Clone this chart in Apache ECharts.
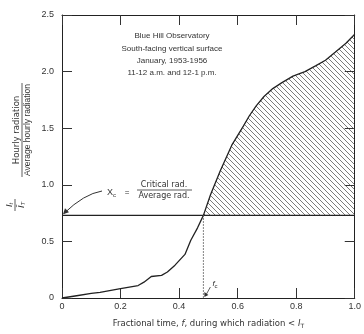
<!DOCTYPE html>
<html>
<head>
<meta charset="utf-8">
<script src="https://cdn.jsdelivr.net/npm/echarts@6/dist/echarts.min.js"></script>
<style>
  html, body { margin: 0; padding: 0; background: #fff; }
  #chart { width: 364px; height: 334px; }
</style>
</head>
<body>
<div id="chart"></div>
<script>
// fractional time f and hourly radiation ratio
const fracTime = [0, 0.05, 0.1, 0.13, 0.195, 0.26, 0.28, 0.305, 0.34, 0.36, 0.386, 0.42, 0.44, 0.463, 0.483,
  0.507, 0.54, 0.58, 0.62, 0.64, 0.664, 0.69, 0.72, 0.75, 0.789, 0.83, 0.866, 0.9, 0.933, 0.97, 1.0];
const radRatio = [0, 0.02, 0.04, 0.05, 0.08, 0.11, 0.14, 0.19, 0.2, 0.23, 0.29, 0.385, 0.51, 0.62, 0.73,
  0.91, 1.12, 1.35, 1.52, 1.61, 1.70, 1.78, 1.85, 1.90, 1.96, 2.0, 2.05, 2.1, 2.17, 2.25, 2.33];
const xcValue = 0.73;   // critical / average radiation
const fcValue = 0.483;  // fraction of time below critical
const noteLines = ['Blue Hill Observatory', 'South-facing vertical surface', 'January, 1953-1956', '11-12 a.m. and 12-1 p.m.'];

const chart = echarts.init(document.getElementById('chart'));

// diagonal hatching for the area above the critical level
function hatch() {
  const s = 5;
  const c = document.createElement('canvas');
  c.width = s; c.height = s;
  const ctx = c.getContext('2d');
  ctx.strokeStyle = '#444';
  ctx.lineWidth = 0.7;
  ctx.beginPath();
  ctx.moveTo(0, 0); ctx.lineTo(s, s);
  ctx.moveTo(s - 1, -1); ctx.lineTo(s + 1, 1);
  ctx.moveTo(-1, s - 1); ctx.lineTo(1, s + 1);
  ctx.stroke();
  return c;
}

const curve = fracTime.map((f, i) => [f, radRatio[i]]);
const upper = curve.filter(p => p[0] >= fcValue);
const font = 'Liberation Sans, Arial, sans-serif';
const wide = 'DejaVu Sans, sans-serif';
const fmt = v => (v === 0 ? '0' : v.toFixed(1));

const axisBase = {
  axisLine: { show: true, onZero: false, lineStyle: { color: '#222', width: 1 } },
  axisTick: { show: true, inside: true, length: 10, lineStyle: { color: '#333' } },
  splitLine: { show: false }
};

const option = {
  backgroundColor: '#fff',
  animation: false,
  grid: { left: 62, right: 4, top: 15, bottom: 33 },
  xAxis: [
    Object.assign({
      type: 'value', min: 0, max: 1, interval: 0.2, position: 'bottom',
      axisLabel: { color: '#333', fontSize: 9, fontFamily: font, margin: 4, formatter: fmt },
      name: '{n|Fractional time, }{i|f}{n|, during which radiation < }{i|I}{s|T}',
      nameLocation: 'middle', nameGap: 21,
      nameTextStyle: {
        rich: {
          n: { fontSize: 8.5, color: '#333', fontFamily: wide },
          i: { fontSize: 8.5, color: '#333', fontFamily: wide, fontStyle: 'italic' },
          s: { fontSize: 6, color: '#333', fontFamily: wide, verticalAlign: 'bottom', padding: [4, 0, 0, 0] }
        }
      }
    }, axisBase),
    Object.assign({
      type: 'value', min: 0, max: 1, interval: 0.2, position: 'top',
      axisLabel: { show: false }
    }, axisBase)
  ],
  yAxis: [
    Object.assign({
      type: 'value', min: 0, max: 2.5, interval: 0.5, position: 'left',
      axisLabel: { color: '#333', fontSize: 9, fontFamily: font, margin: 8, formatter: fmt }
    }, axisBase),
    Object.assign({
      type: 'value', min: 0, max: 2.5, interval: 0.5, position: 'right',
      axisLabel: { show: false }
    }, axisBase)
  ],
  series: [
    {
      type: 'line', data: upper, symbol: 'none', silent: true,
      lineStyle: { width: 0 },
      areaStyle: { origin: xcValue, color: { image: hatch(), repeat: 'repeat' }, opacity: 1 },
      z: 1
    },
    {
      type: 'line', data: curve, symbol: 'none',
      lineStyle: { color: '#222', width: 1.3 }, z: 3
    },
    {
      type: 'line', data: [[0, xcValue], [1, xcValue]], symbol: 'none',
      lineStyle: { color: '#222', width: 1.2 }, z: 3
    },
    {
      type: 'line', data: [[fcValue, 0], [fcValue, xcValue]], symbol: 'none',
      lineStyle: { color: '#666', width: 0.8, type: [2, 1] }, z: 3
    }
  ]
};
chart.setOption(option);

// annotations placed from the axis scales
const toPx = (x, y) => chart.convertToPixel({ xAxisIndex: 0, yAxisIndex: 0 }, [x, y]);
const xcPt = toPx(0, xcValue);
const fcPt = toPx(fcValue, 0);
const txt = { fill: '#333', fontFamily: font, fontSize: 8 };
const txtW = { fill: '#333', fontFamily: wide, fontSize: 8 };

const graphics = [];
noteLines.forEach((t, i) => {
  graphics.push({ type: 'text', x: 172, y: 36 + i * 12.3,
    style: Object.assign({ text: t, align: 'center', verticalAlign: 'middle' }, txt) });
});

// X_c = Critical rad. / Average rad.
graphics.push(
  { type: 'text', x: 107, y: 193, style: Object.assign({ text: '{a|X}{b|c}', verticalAlign: 'middle',
      rich: { a: { fontSize: 9, fontFamily: font, fill: '#333' }, b: { fontSize: 6, fontFamily: font, fill: '#333', padding: [5, 0, 0, 0] } } }, txt) },
  { type: 'text', x: 127, y: 193, style: Object.assign({ text: '=', align: 'center', verticalAlign: 'middle' }, txt) },
  { type: 'text', x: 164, y: 185, style: Object.assign({ text: 'Critical rad.', align: 'center', verticalAlign: 'middle' }, txtW) },
  { type: 'line', shape: { x1: 137, y1: 190, x2: 192, y2: 190 }, style: { stroke: '#333', lineWidth: 0.8 } },
  { type: 'text', x: 164, y: 196, style: Object.assign({ text: 'Average rad.', align: 'center', verticalAlign: 'middle' }, txtW) },
  { type: 'bezierCurve', shape: { x1: 102, y1: 191, cpx1: 84, cpy1: 194, x2: xcPt[0] + 2, y2: xcPt[1] - 2 },
    style: { stroke: '#333', lineWidth: 1, fill: null } },
  { type: 'polygon', shape: { points: [[xcPt[0] + 1, xcPt[1] - 1], [xcPt[0] + 3, xcPt[1] - 7], [xcPt[0] + 7, xcPt[1] - 3]] },
    style: { fill: '#333' } }
);

// f_c pointer
graphics.push(
  { type: 'line', shape: { x1: fcPt[0] + 7, y1: fcPt[1] - 11, x2: fcPt[0] + 2, y2: fcPt[1] - 2 }, style: { stroke: '#333', lineWidth: 0.8 } },
  { type: 'polygon', shape: { points: [[fcPt[0] + 1, fcPt[1] - 1], [fcPt[0] + 1, fcPt[1] - 6], [fcPt[0] + 5, fcPt[1] - 3]] }, style: { fill: '#333' } },
  { type: 'text', x: fcPt[0] + 9, y: fcPt[1] - 14, style: Object.assign({ text: '{a|f}{b|c}', verticalAlign: 'middle',
      rich: { a: { fontSize: 8, fontStyle: 'italic', fontFamily: font, fill: '#333' }, b: { fontSize: 6, fontFamily: font, fill: '#333', padding: [4, 0, 0, 0] } } }, txt) }
);

// rotated y-axis title
graphics.push({
  type: 'group', x: 22, y: 130, rotation: Math.PI / 2,
  children: [
    { type: 'text', x: 0, y: -1, style: Object.assign({ text: 'Hourly radiation', align: 'center', verticalAlign: 'bottom' }, txtW, { fontSize: 8.5 }) },
    { type: 'line', shape: { x1: -47, y1: 0, x2: 47, y2: 0 }, style: { stroke: '#333', lineWidth: 0.8 } },
    { type: 'text', x: 0, y: 1.5, style: Object.assign({ text: 'Average hourly radiation', align: 'center', verticalAlign: 'top' }, txt, { fontSize: 8.5 }) }
  ]
});
graphics.push({
  type: 'group', x: 15, y: 205, rotation: Math.PI / 2,
  children: [
    { type: 'text', x: 0, y: -6, style: { text: '{a|I}{b|t}', align: 'center', verticalAlign: 'middle',
        rich: { a: { fontSize: 9, fontStyle: 'italic', fontFamily: font, fill: '#333' }, b: { fontSize: 6, fontStyle: 'italic', fontFamily: font, fill: '#333', padding: [4, 0, 0, 0] } } } },
    { type: 'line', shape: { x1: -6, y1: 0, x2: 6, y2: 0 }, style: { stroke: '#333', lineWidth: 0.8 } },
    { type: 'text', x: 0, y: 6, style: { text: '{a|Ī}{b|T}', align: 'center', verticalAlign: 'middle',
        rich: { a: { fontSize: 9, fontStyle: 'italic', fontFamily: font, fill: '#333' }, b: { fontSize: 6, fontStyle: 'italic', fontFamily: font, fill: '#333', padding: [4, 0, 0, 0] } } } }
  ]
});

chart.setOption({ graphic: { elements: graphics } });
</script>
</body>
</html>
